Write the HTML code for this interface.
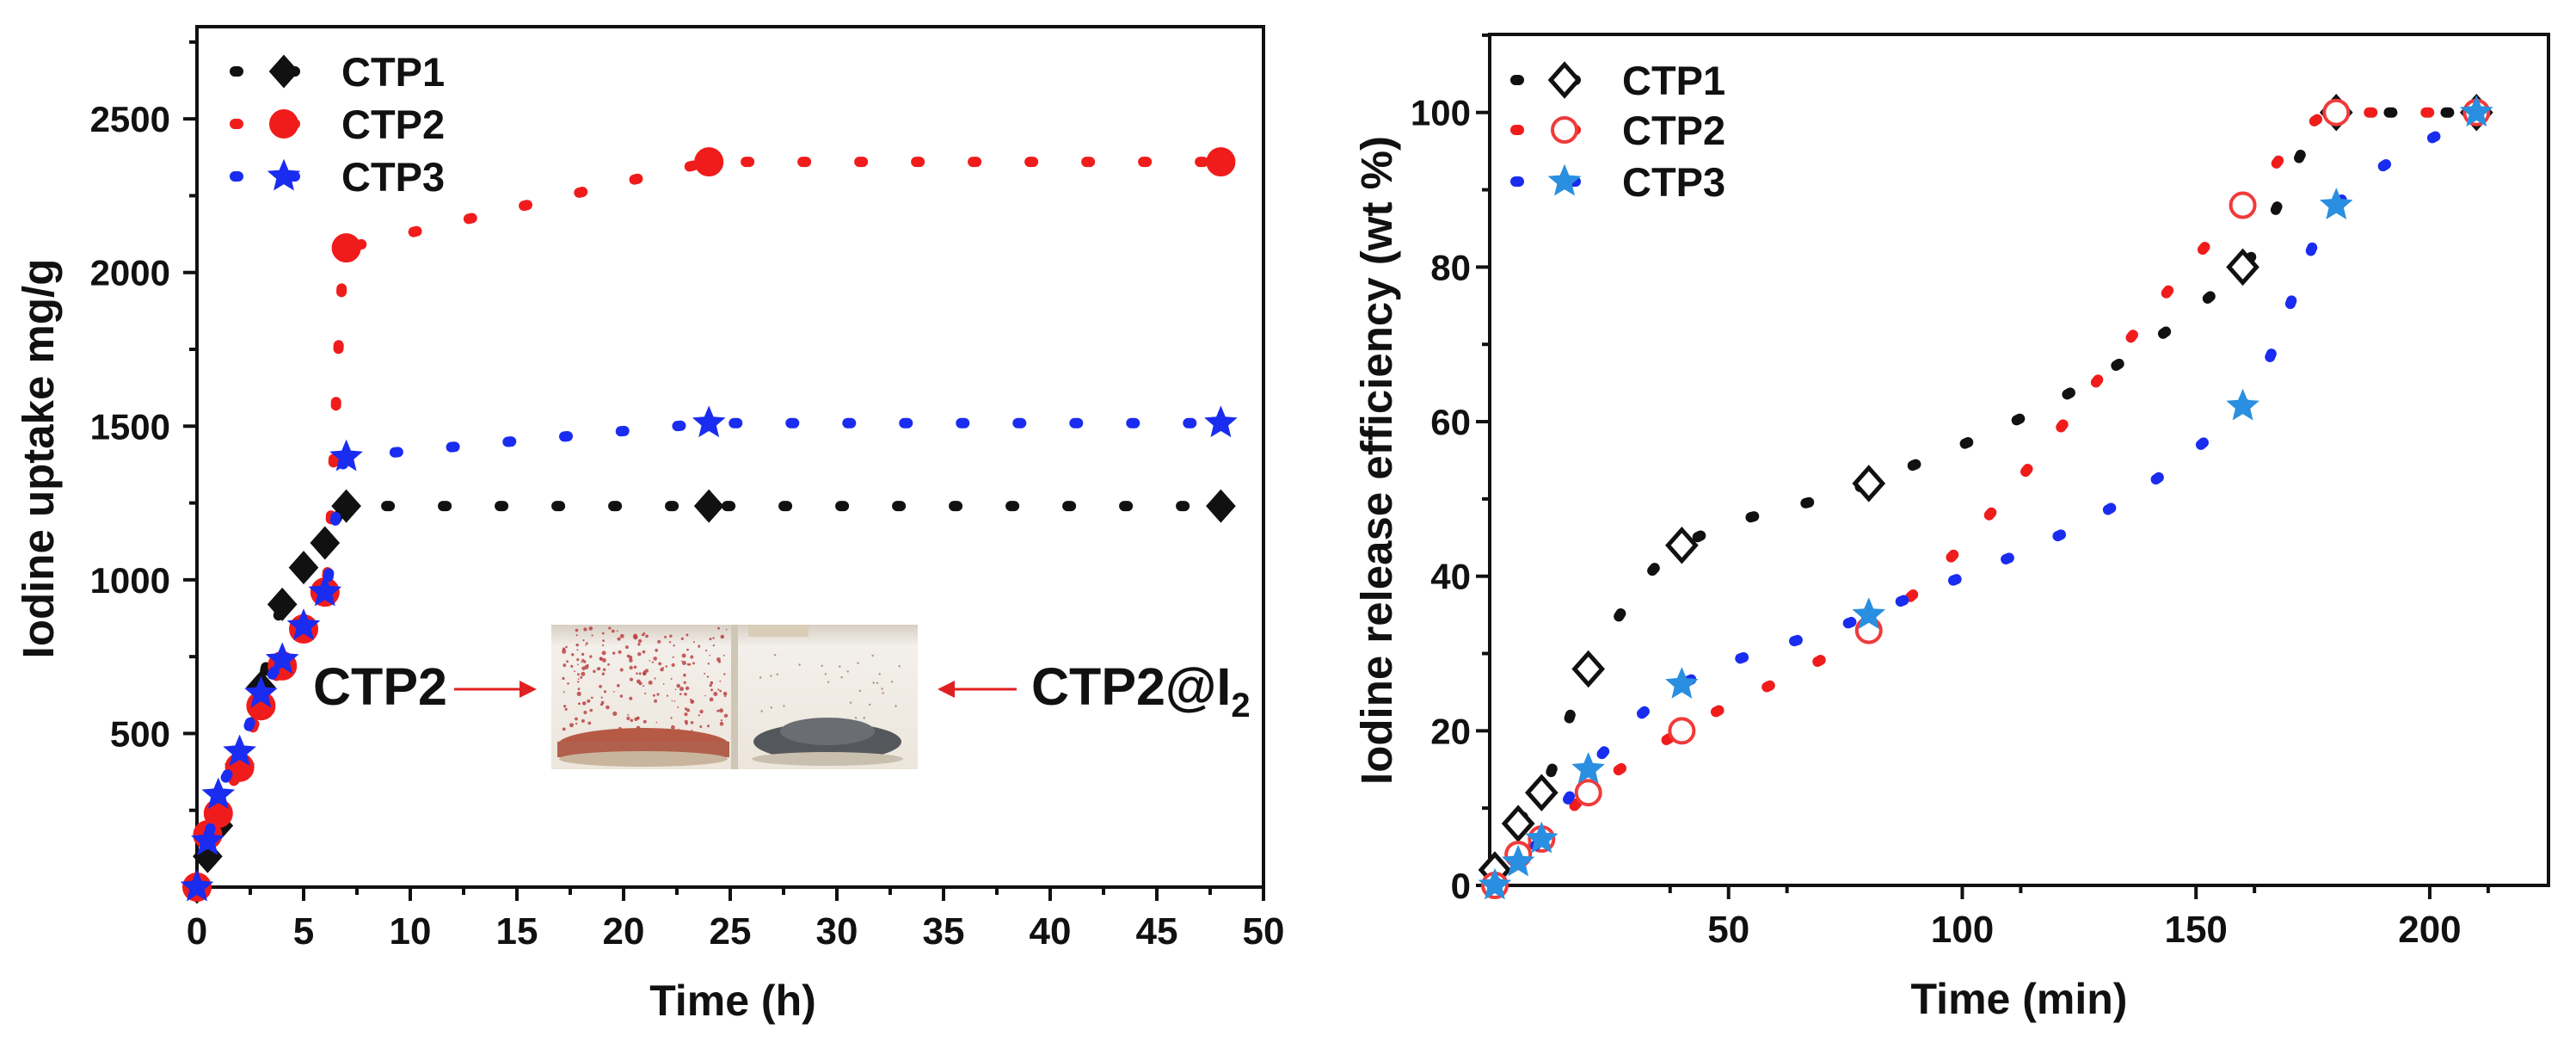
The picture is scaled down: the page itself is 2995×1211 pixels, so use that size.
<!DOCTYPE html>
<html><head><meta charset="utf-8">
<style>
html,body{margin:0;padding:0;background:#fff;}
svg{display:block;font-family:"Liberation Sans",Arial,sans-serif;font-weight:bold;}
</style></head>
<body>
<svg id="fig" width="2995" height="1211" viewBox="0 0 2995 1211" xmlns="http://www.w3.org/2000/svg">
<g id="left"></g>
<g id="right"></g>
</svg>
<script>
// ---- Left chart data (iodine uptake) ----
const uptakeTime = [0, 0.5, 1, 2, 3, 4, 5, 6, 7, 24, 48];
const uptakeCTP1 = [0, 100, 200, 400, 650, 920, 1040, 1120, 1240, 1240, 1240];
const uptakeCTP2 = [0, 170, 240, 390, 590, 720, 840, 960, 2080, 2360, 2360];
const uptakeCTP3 = [0, 150, 300, 440, 630, 740, 850, 960, 1400, 1510, 1510];
const uptakeXTicks = [0, 5, 10, 15, 20, 25, 30, 35, 40, 45, 50];
const uptakeYTicks = [500, 1000, 1500, 2000, 2500];
// ---- Right chart data (iodine release) ----
const releaseTime = [0, 5, 10, 20, 40, 80, 160, 180, 210];
const releaseCTP1 = [2, 8, 12, 28, 44, 52, 80, 100, 100];
const releaseCTP2 = [0, 4, 6, 12, 20, 33, 88, 100, 100];
const releaseCTP3 = [0, 3, 6, 15, 26, 35, 62, 88, 100];
const releaseXTicks = [50, 100, 150, 200];
const releaseYTicks = [0, 20, 40, 60, 80, 100];

const NS = "http://www.w3.org/2000/svg";
function mk(parent, tag, attrs, text){
  const e = document.createElementNS(NS, tag);
  for (const k in attrs) e.setAttribute(k, attrs[k]);
  if (text !== undefined) e.textContent = text;
  parent.appendChild(e);
  return e;
}
function scale(d0, d1, r0, r1){ return v => r0 + (v - d0) / (d1 - d0) * (r1 - r0); }

function smoothPath(pts, longDx){
  const n = pts.length;
  if (n < 2) return "";
  const dx = [], m = [], t = [];
  for (let i = 0; i < n - 1; i++){ dx[i] = pts[i+1][0]-pts[i][0]; m[i] = (pts[i+1][1]-pts[i][1])/(dx[i]||1e-9); }
  t[0] = m[0]; t[n-1] = m[n-2];
  for (let i = 1; i < n - 1; i++){
    if (m[i-1]*m[i] <= 0) t[i] = 0;
    else { const w1 = 2*dx[i]+dx[i-1], w2 = dx[i]+2*dx[i-1]; t[i] = (w1+w2)/(w1/m[i-1]+w2/m[i]); }
  }
  let d = "M" + pts[0][0] + "," + pts[0][1];
  for (let i = 0; i < n - 1; i++){
    if (dx[i] > longDx) { d += " L" + pts[i+1][0] + "," + pts[i+1][1]; continue; }
    const h = dx[i]/3;
    d += " C" + (pts[i][0]+h) + "," + (pts[i][1]+t[i]*h) + " " + (pts[i+1][0]-h) + "," + (pts[i+1][1]-t[i+1]*h) + " " + pts[i+1][0] + "," + pts[i+1][1];
  }
  return d;
}
function starPath(cx, cy, R){
  const r = R*0.45; let d = "";
  for (let i = 0; i < 10; i++){
    const a = -Math.PI/2 + i*Math.PI/5, rr = i%2 ? r : R;
    d += (i ? "L" : "M") + (cx + rr*Math.cos(a)).toFixed(1) + "," + (cy + rr*Math.sin(a)).toFixed(1);
  }
  return d + "Z";
}
function marker(g, type, cx, cy, color, filled, name){
  let e;
  if (type === "diamond"){
    e = mk(g, "path", {d:`M${cx},${cy-18} L${cx+16},${cy} L${cx},${cy+18} L${cx-16},${cy} Z`,
      fill: filled ? color : "#fff", stroke: color, "stroke-width": filled ? 2 : 5});
  } else if (type === "circle"){
    e = mk(g, "circle", {cx, cy, r: filled ? 16 : 14, fill: filled ? color : "#fff", stroke: color, "stroke-width": filled ? 2 : 4});
  } else {
    e = mk(g, "path", {d: starPath(cx, cy, 19), fill: color, stroke: color, "stroke-width": 1});
  }
  
  
}
function dotted(g, d, color, name){
  const e = mk(g, "path", {d, fill:"none", stroke:color, "stroke-width":12, "stroke-linecap":"round", "stroke-dasharray":"4 62"});
  
  
}

function drawChart(g, cfg){
  const X = scale(cfg.xmin, cfg.xmax, cfg.L, cfg.R);
  const Y = scale(cfg.ymin, cfg.ymax, cfg.B, cfg.T);
  const fr = mk(g, "rect", {x:cfg.L, y:cfg.T, width:cfg.R-cfg.L, height:cfg.B-cfg.T, fill:"none", stroke:"#111", "stroke-width":4});
   
  cfg.xTicks.forEach(v => {
    const x = X(v);
    mk(g, "line", {x1:x, x2:x, y1:cfg.B, y2:cfg.B+16, stroke:"#111", "stroke-width":4});
    const t = mk(g, "text", {x, y:cfg.B+66, "text-anchor":"middle", "font-size":44, fill:"#111"}, String(v));
     
  });
  for (let i = 0; i < cfg.xTicks.length; i++){
    const v = cfg.xTicks[i] + cfg.xStep/2;
    if (v < cfg.xmax) mk(g, "line", {x1:X(v), x2:X(v), y1:cfg.B, y2:cfg.B+9, stroke:"#111", "stroke-width":4});
  }
  if (cfg.xTicks[0] - cfg.xStep/2 > cfg.xmin) { const v = cfg.xTicks[0]-cfg.xStep/2; mk(g, "line", {x1:X(v), x2:X(v), y1:cfg.B, y2:cfg.B+9, stroke:"#111", "stroke-width":4}); }
  cfg.yTicks.forEach(v => {
    const y = Y(v);
    mk(g, "line", {x1:cfg.L-16, x2:cfg.L, y1:y, y2:y, stroke:"#111", "stroke-width":4});
    const t = mk(g, "text", {x:cfg.yLabelX, y:y+15, "text-anchor":"end", "font-size":42, fill:"#111"}, String(v));
     
  });
  for (let v = cfg.ymin + cfg.yStep/2; v < cfg.ymax; v += cfg.yStep){
    mk(g, "line", {x1:cfg.L-9, x2:cfg.L, y1:Y(v), y2:Y(v), stroke:"#111", "stroke-width":4});
  }
  const xt = mk(g, "text", {x:(cfg.L+cfg.R)/2 + cfg.xTitleDx, y:cfg.xTitleY, "text-anchor":"middle", "font-size":50, fill:"#111"}, cfg.xTitle);
   
  const yt = mk(g, "text", {x:0, y:0, transform:`translate(${cfg.yTitleX},${cfg.yTitleY}) rotate(-90)`, "text-anchor":"middle", "font-size":51, fill:"#111"}, cfg.yTitle);
   
  cfg.series.forEach(s => {
    const sg = mk(g, "g", {});
    
    
    const pts = cfg.xs.map((x, i) => [X(x), Y(s.ys[i])]);
    dotted(sg, smoothPath(pts, cfg.longDx), s.line, 'series-line');
    pts.forEach(p => marker(sg, s.type, p[0], p[1], s.mcolor, s.filled, 'data-point'));
  });
  const lg = mk(g, "g", {});
   
  cfg.series.forEach((s, i) => {
    const y = cfg.legY[i];
    const eg = mk(lg, "g", {});
     
    dotted(eg, `M${cfg.legX},${y} L${cfg.legX+91},${y}`, s.line, 'legend-line');
    marker(eg, s.type, cfg.legX+57, y, s.mcolor, s.filled, 'legend-marker');
    const t = mk(eg, "text", {x:cfg.legX+124, y:y+17, "font-size":47, fill:"#111"}, s.label);
     
  });
}

drawChart(document.getElementById("left"), {
  L:229, R:1469, T:31, B:1031, xmin:0, xmax:50, ymin:0, ymax:2800, xStep:5, yStep:500,
  xTicks:uptakeXTicks, yTicks:uptakeYTicks, yLabelX:198, longDx:200,
  xTitle:"Time (h)", xTitleDx:3, xTitleY:1180, yTitle:"Iodine uptake mg/g", yTitleX:62, yTitleY:533,
  xs:uptakeTime, legX:273, legY:[83,144,205],
  series:[
    {label:"CTP1", ys:uptakeCTP1, line:"#111", mcolor:"#111", type:"diamond", filled:true},
    {label:"CTP2", ys:uptakeCTP2, line:"#f01c1c", mcolor:"#f01c1c", type:"circle", filled:true},
    {label:"CTP3", ys:uptakeCTP3, line:"#1a2cf0", mcolor:"#1a2cf0", type:"star", filled:true}
  ]
});
drawChart(document.getElementById("right"), {
  L:1732, R:2963, T:40, B:1029, xmin:-1.1, xmax:225.4, ymin:0, ymax:110.1, xStep:25, yStep:20,
  xTicks:releaseXTicks, yTicks:releaseYTicks, yLabelX:1710, longDx:10000,
  xTitle:"Time (min)", xTitleDx:0, xTitleY:1178, yTitle:"Iodine release efficiency (wt %)", yTitleX:1618, yTitleY:535,
  xs:releaseTime, legX:1762, legY:[93,151,211],
  series:[
    {label:"CTP1", ys:releaseCTP1, line:"#111", mcolor:"#111", type:"diamond", filled:false},
    {label:"CTP2", ys:releaseCTP2, line:"#f01c1c", mcolor:"#f03a3a", type:"circle", filled:false},
    {label:"CTP3", ys:releaseCTP3, line:"#1a2cf0", mcolor:"#2a8fe0", type:"star", filled:true}
  ]
});

(function(){
  const g = mk(document.getElementById("left"), "g", {});
   
  const defs = mk(g, "defs", {});
  const lg1 = mk(defs, "linearGradient", {id:"bgL", x1:0, y1:0, x2:0, y2:1});
  mk(lg1, "stop", {offset:0, "stop-color":"#d8cfc4"}); mk(lg1, "stop", {offset:0.15, "stop-color":"#f3efea"}); mk(lg1, "stop", {offset:1, "stop-color":"#ece6dc"});
  mk(g, "rect", {x:641, y:726, width:426, height:168, fill:"url(#bgL)"});
  mk(g, "rect", {x:850, y:726, width:8, height:168, fill:"#cfc6b6"});
  mk(g, "rect", {x:870, y:726, width:70, height:14, fill:"#d9cdb8"});
  let s = 7;
  const rnd = () => { s = (s*9301 + 49297) % 233280; return s/233280; };
  for (let i = 0; i < 220; i++){
    const x = 655 + rnd()*190, y = 730 + rnd()*120;
    mk(g, "circle", {cx:x.toFixed(1), cy:y.toFixed(1), r:(0.8+rnd()*1.8).toFixed(1), fill:"#b83a3a", opacity:0.8});
  }
  for (let i = 0; i < 30; i++){
    const x = 880 + rnd()*170, y = 760 + rnd()*80;
    mk(g, "circle", {cx:x.toFixed(1), cy:y.toFixed(1), r:1.2, fill:"#8a4a4a", opacity:0.6});
  }
  mk(g, "ellipse", {cx:748, cy:866, rx:100, ry:20, fill:"#b65a45"});
  mk(g, "rect", {x:648, y:862, width:200, height:18, fill:"#b0604c"});
  mk(g, "ellipse", {cx:748, cy:882, rx:98, ry:9, fill:"#c9b59e"});
  mk(g, "ellipse", {cx:962, cy:862, rx:86, ry:22, fill:"#54575c"});
  mk(g, "ellipse", {cx:962, cy:850, rx:55, ry:16, fill:"#6a6d72"});
  mk(g, "ellipse", {cx:962, cy:882, rx:88, ry:8, fill:"#c8bfae"});
  const t1 = mk(g, "text", {x:364, y:819, "font-size":61, fill:"#111"}, "CTP2");
   
  mk(g, "line", {x1:528, y1:801, x2:606, y2:801, stroke:"#e02020", "stroke-width":3});
  mk(g, "path", {d:"M624,801 L604,791 L604,811 Z", fill:"#e02020"});
  mk(g, "line", {x1:1182, y1:801, x2:1108, y2:801, stroke:"#e02020", "stroke-width":3});
  mk(g, "path", {d:"M1090,801 L1110,791 L1110,811 Z", fill:"#e02020"});
  const t2 = mk(g, "text", {x:1199, y:819, "font-size":61, fill:"#111"});
   
  t2.appendChild(document.createTextNode("CTP2@I"));
  mk(t2, "tspan", {"font-size":40, dy:14}, "2");
})();
</script>
</body></html>
